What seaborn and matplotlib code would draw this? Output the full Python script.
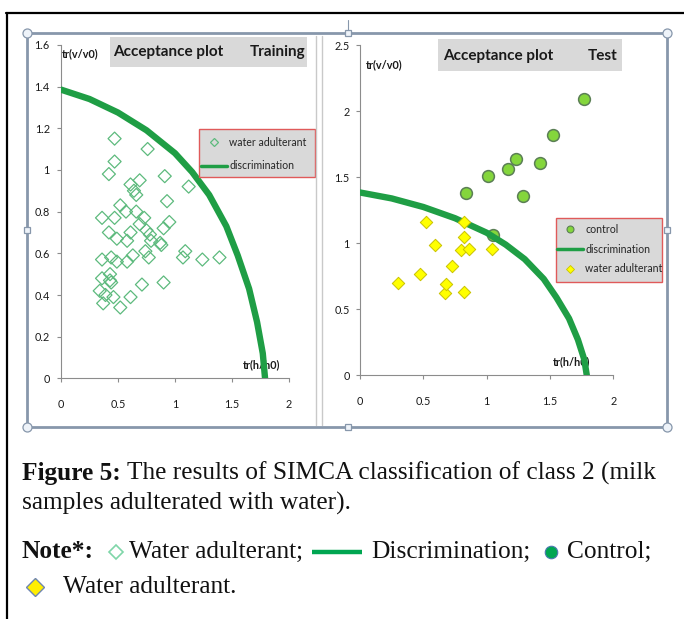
import matplotlib
matplotlib.use("Agg")
import matplotlib.pyplot as plt
import seaborn as sns
import pandas as pd
from matplotlib.lines import Line2D
from matplotlib.patches import Rectangle
from matplotlib import font_manager

# ---------------- data ----------------
train_x = [0.47, 0.76, 0.47, 0.42, 0.91, 1.12, 0.61, 0.69, 0.64, 0.66, 0.93, 0.36, 0.47,
           0.52, 0.57, 0.66, 0.73, 0.95, 0.42, 0.49, 0.61, 0.58, 0.69, 0.75, 0.79, 0.78,
           0.90, 0.87, 0.88, 0.74, 0.77, 0.63, 0.58, 0.36, 0.44, 0.49, 0.36, 0.43, 0.44,
           0.34, 0.39, 0.37, 0.46, 0.52, 0.61, 0.71, 0.90, 1.07, 1.09, 1.24, 1.39, 0.43]
train_y = [1.15, 1.10, 1.04, 0.98, 0.97, 0.92, 0.93, 0.95, 0.90, 0.88, 0.85, 0.77, 0.77,
           0.83, 0.80, 0.80, 0.77, 0.75, 0.70, 0.67, 0.70, 0.66, 0.74, 0.71, 0.66, 0.69,
           0.72, 0.65, 0.64, 0.61, 0.58, 0.59, 0.56, 0.57, 0.58, 0.56, 0.48, 0.50, 0.46,
           0.42, 0.40, 0.36, 0.39, 0.34, 0.39, 0.45, 0.46, 0.58, 0.61, 0.57, 0.58, 0.47]

control_x = [1.77, 1.52, 1.23, 1.42, 1.17, 1.01, 1.29, 0.84, 1.05]
control_y = [2.09, 1.82, 1.64, 1.61, 1.56, 1.51, 1.36, 1.38, 1.06]

test_water_x = [0.30, 0.47, 0.52, 0.59, 0.67, 0.68, 0.73, 0.80, 0.82, 0.82, 0.86, 0.82, 1.04]
test_water_y = [0.70, 0.77, 1.16, 0.99, 0.62, 0.69, 0.83, 0.95, 1.16, 1.05, 0.96, 0.63, 0.96]

curve_x = [0.0, 0.25, 0.5, 0.75, 1.0, 1.15, 1.3, 1.45, 1.55, 1.65, 1.72, 1.77, 1.79]
curve_y = [1.385, 1.34, 1.275, 1.19, 1.08, 0.99, 0.88, 0.73, 0.59, 0.43, 0.27, 0.12, 0.0]

x_ticks = [0, 0.5, 1, 1.5, 2]
x_ticklabels = ["0", "0.5", "1", "1.5", "2"]
train_yticks = [0, 0.2, 0.4, 0.6, 0.8, 1.0, 1.2, 1.4, 1.6]
train_yticklabels = ["0", "0.2", "0.4", "0.6", "0.8", "1", "1.2", "1.4", "1.6"]
test_yticks = [0, 0.5, 1, 1.5, 2, 2.5]
test_yticklabels = ["0", "0.5", "1", "1.5", "2", "2.5"]

train_title = ("Acceptance plot", "Training")
test_title = ("Acceptance plot", "Test")
ylab = "tr(v/v0)"
xlab = "tr(h/h0)"
legend_train = ["water adulterant", "discrimination"]
legend_test = ["control", "discrimination", "water adulterant"]

line1_bold = "Figure 5:"
line1_rest = "The results of SIMCA classification of class 2 (milk"
line2 = "samples adulterated with water)."
note_bold = "Note*:"
note_items = ["Water adulterant;", "Discrimination;", "Control;"]
line4 = "Water adulterant."

# ---------------- style ----------------
sns.set_style("white")
names = {f.name for f in font_manager.fontManager.ttflist}
SANS = "Lato" if "Lato" in names else "Liberation Sans"
SERIF = "Liberation Serif" if "Liberation Serif" in names else "DejaVu Serif"
plt.rcParams["font.family"] = [SANS, "DejaVu Sans"]

W, H = 684, 619
fig = plt.figure(figsize=(W / 100, H / 100), dpi=100)
fig.patch.set_facecolor("white")
renderer = fig.canvas.get_renderer()


def fx(x):
    return x / W


def fy(y):
    return 1 - y / H


def width_at(s, size, weight="normal", family=SANS):
    t = fig.text(0, 0, s, fontsize=size, fontweight=weight, family=family)
    w = t.get_window_extent(renderer).width
    t.remove()
    return w


def fit_size(s, target, weight="normal", family=SANS):
    return 10 * target / width_at(s, 10, weight, family)


TITLE_FS = fit_size("Acceptance plot", 111, "bold")
LAB_FS = fit_size("tr(v/v0)", 37, "bold")
LEG_FS = fit_size("water adulterant", 77)
TICK_FS = 7.8

CURVE = "#1f9e45"
TRAIN_EDGE = "#5dba7d"
SPINE = "#8c8c8c"
TXT = "#1a1a1a"

# ---------------- frame decorations ----------------
fig.add_artist(Line2D([fx(6), fx(684)], [fy(13), fy(13)], transform=fig.transFigure,
                      color="black", lw=1.6))
fig.add_artist(Line2D([fx(6.5), fx(6.5)], [fy(13), fy(619)], transform=fig.transFigure,
                      color="black", lw=1.6))
for xx in (316, 322):
    fig.add_artist(Line2D([fx(xx), fx(xx)], [fy(36), fy(425)], transform=fig.transFigure,
                          color="#c9c9c9", lw=1.0))
FR = "#8797ab"
fig.add_artist(Line2D([fx(348), fx(348)], [fy(20), fy(33)], transform=fig.transFigure,
                      color=FR, lw=0.8))
for (x0, y0, x1, y1) in [(27, 33, 667, 33), (27, 427, 667, 427), (27, 33, 27, 427),
                         (667, 33, 667, 427)]:
    fig.add_artist(Line2D([fx(x0), fx(x1)], [fy(y0), fy(y1)], transform=fig.transFigure,
                          color=FR, lw=2.0, solid_capstyle="butt"))
for (cx, cy) in [(27, 33), (667, 33), (27, 427), (667, 427)]:
    fig.add_artist(Line2D([fx(cx)], [fy(cy)], transform=fig.transFigure, marker="o",
                          ms=6.5, mfc="#eef3f9", mec=FR, mew=0.9, ls="none"))
for (cx, cy) in [(348, 33), (348, 427), (27, 230), (667, 230)]:
    fig.add_artist(Line2D([fx(cx)], [fy(cy)], transform=fig.transFigure, marker="s",
                          ms=5, mfc="#eef3f9", mec=FR, mew=0.9, ls="none"))

# ---------------- axes ----------------
ax1 = fig.add_axes([fx(61), fy(378.4), 228 / W, (378.4 - 44.8) / H])
ax2 = fig.add_axes([fx(360), fy(375.3), 253.4 / W, 330 / H])

df_train = pd.DataFrame({"x": train_x, "y": train_y})
df_curve = pd.DataFrame({"x": curve_x, "y": curve_y})
df_ctrl = pd.DataFrame({"x": control_x, "y": control_y})
df_tw = pd.DataFrame({"x": test_water_x, "y": test_water_y})

sns.scatterplot(data=df_train, x="x", y="y", ax=ax1, marker="D", s=44, color=TRAIN_EDGE,
                edgecolor=TRAIN_EDGE, linewidth=0.9, zorder=3, legend=False)
ax1.collections[-1].set_facecolor("none")
sns.lineplot(data=df_curve, x="x", y="y", ax=ax1, sort=False, estimator=None,
             color=CURVE, lw=4.6, zorder=4, legend=False)

sns.scatterplot(data=df_ctrl, x="x", y="y", ax=ax2, marker="o", s=72, color="#84d63c",
                edgecolor="#5b7f55", linewidth=1.1, zorder=3, legend=False)
sns.lineplot(data=df_curve, x="x", y="y", ax=ax2, sort=False, estimator=None,
             color=CURVE, lw=4.6, zorder=4, legend=False)
sns.scatterplot(data=df_tw, x="x", y="y", ax=ax2, marker="D", s=40, color="#ffff00",
                edgecolor="#c9c200", linewidth=0.7, zorder=5, legend=False)

for ax, yt, ytl, ylim, ypad in [(ax1, train_yticks, train_yticklabels, 1.6, 5.0),
                                (ax2, test_yticks, test_yticklabels, 2.5, 4.5)]:
    ax.set_facecolor("none")
    ax.set_xlim(0, 2)
    ax.set_ylim(0, ylim)
    ax.set_xticks(x_ticks)
    ax.set_xticklabels(x_ticklabels)
    ax.set_yticks(yt)
    ax.set_yticklabels(ytl)
    ax.set_xlabel("")
    ax.set_ylabel("")
    for s in ("top", "right"):
        ax.spines[s].set_visible(False)
    for s in ("left", "bottom"):
        ax.spines[s].set_color(SPINE)
        ax.spines[s].set_linewidth(0.8)
    ax.tick_params(axis="x", direction="out", length=3, width=0.8, color=SPINE, pad=12,
                   labelsize=TICK_FS, labelcolor=TXT, bottom=True)
    ax.tick_params(axis="y", direction="out", length=3, width=0.8, color=SPINE, pad=ypad,
                   labelsize=TICK_FS, labelcolor=TXT, left=True)

for ax, (x, y, s) in [(ax1, (62, 54, ylab)), (ax1, (243, 365, xlab)),
                      (ax2, (366, 65, ylab)), (ax2, (553, 362, xlab))]:
    ax.text(fx(x), fy(y), s, transform=fig.transFigure, ha="left", va="center",
            fontsize=LAB_FS, fontweight="bold", color=TXT, zorder=2)

for (x0, y0, x1, y1), (t1, t2), (tx1, tx2, ty) in [
        ((110, 37, 307, 67), train_title, (113, 305, 52)),
        ((438, 39, 622, 71), test_title, (443, 618, 56)),
]:
    fig.add_artist(Rectangle((fx(x0), fy(y1)), (x1 - x0) / W, (y1 - y0) / H,
                             transform=fig.transFigure, facecolor="#d9d9d9",
                             edgecolor="none", zorder=1))
    fig.text(fx(tx1), fy(ty), t1, ha="left", va="center", fontsize=TITLE_FS,
             fontweight="bold", color=TXT)
    fig.text(fx(tx2), fy(ty), t2, ha="right", va="center", fontsize=TITLE_FS,
             fontweight="bold", color=TXT)

# legend boxes (Excel style: grey fill, red border)
for ax, (x0, y0, x1, y1) in [(ax1, (199, 129, 315, 177)), (ax2, (556, 218, 662, 282))]:
    ax.add_artist(Rectangle((fx(x0), fy(y1)), (x1 - x0) / W, (y1 - y0) / H,
                            transform=fig.transFigure, facecolor="#d9d9d9",
                            edgecolor="#e05a5a", lw=1.0, zorder=5, clip_on=False))

fs_px = LEG_FS * 100 / 72
h_train = [Line2D([], [], marker="D", ls="none", mfc="none", mec=TRAIN_EDGE, ms=4.5, mew=0.9),
           Line2D([], [], color=CURVE, lw=2.5)]
leg1 = ax1.legend(h_train, legend_train, loc="upper left",
                  bbox_to_anchor=(fx(201), fy(137)), bbox_transform=fig.transFigure,
                  fontsize=LEG_FS, frameon=False, borderpad=0,
                  labelspacing=1.18, handlelength=26 / fs_px, handletextpad=2 / fs_px,
                  borderaxespad=0)
leg1.set_zorder(6)

h_test = [Line2D([], [], marker="o", ls="none", mfc="#84d63c", mec="#5b7f55", ms=5, mew=0.8),
          Line2D([], [], color=CURVE, lw=2.5),
          Line2D([], [], marker="D", ls="none", mfc="#ffff00", mec="#c9c200", ms=4, mew=0.6)]
leg2 = ax2.legend(h_test, legend_test, loc="upper left",
                  bbox_to_anchor=(fx(557), fy(224)), bbox_transform=fig.transFigure,
                  fontsize=LEG_FS, frameon=False, borderpad=0,
                  labelspacing=0.82, handlelength=26 / fs_px, handletextpad=2 / fs_px,
                  borderaxespad=0)
leg2.set_zorder(6)

# ---------------- caption ----------------
w_all = (width_at(line1_bold + " ", 10, "bold", SERIF) + width_at(line1_rest, 10, "normal", SERIF))
CAP = 10 * (655 - 22) / w_all


def cap(x, yb, s, bold=False):
    t = fig.text(fx(x), fy(yb), s, ha="left", va="baseline", fontsize=CAP,
                 family=SERIF, fontweight="bold" if bold else "normal", color="#111111")
    return t.get_window_extent(renderer).x1


end = cap(22, 480, line1_bold + " ", bold=True)
cap(end, 480, line1_rest)
cap(22, 510, line2)

end = cap(22, 558, note_bold, bold=True)
mx = end + 22
fig.add_artist(Line2D([fx(mx)], [fy(552)], transform=fig.transFigure, marker="D", ms=7,
                      mfc="white", mec="#7fd6a8", mew=1.2, ls="none"))
end = cap(mx + 13, 558, note_items[0])
lx = end + 9
fig.add_artist(Line2D([fx(lx), fx(lx + 50)], [fy(552), fy(552)], transform=fig.transFigure,
                      color="#00a651", lw=3.2, solid_capstyle="butt"))
end = cap(lx + 59, 558, note_items[1])
cx = end + 20
fig.add_artist(Line2D([fx(cx)], [fy(552)], transform=fig.transFigure, marker="o", ms=9,
                      mfc="#00a651", mec="#4a78b0", mew=0.8, ls="none"))
cap(cx + 17, 558, note_items[2])

fig.add_artist(Line2D([fx(35)], [fy(587)], transform=fig.transFigure, marker="D", ms=9,
                      mfc="#ffee00", mec="#6f86b0", mew=1.0, ls="none"))
cap(63, 593, line4)

fig.savefig("out.png", dpi=100, facecolor="white")
